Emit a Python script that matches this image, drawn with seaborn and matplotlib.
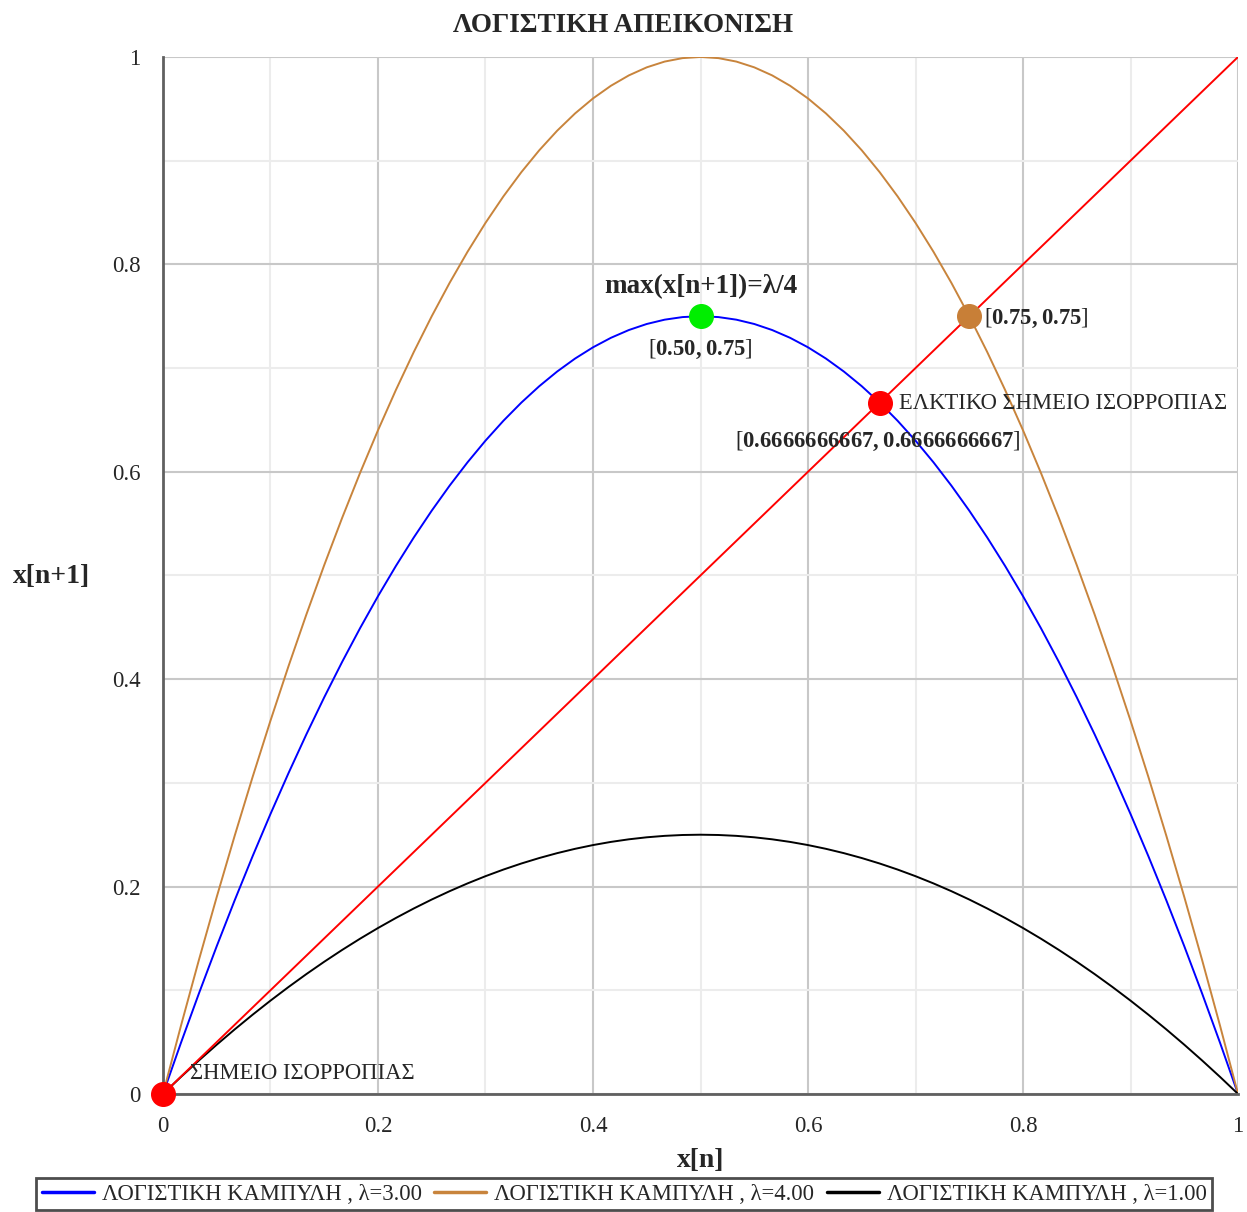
import numpy as np
import pandas as pd
import matplotlib
matplotlib.use("Agg")
import matplotlib.pyplot as plt
import seaborn as sns

# Growth rates of the logistic curves, in legend order
lambdas = [3.0, 4.0, 1.0]
curve_colors = ["#0000ff", "#c8843c", "#000000"]
curve_labels = ["ΛΟΓΙΣΤΙΚΗ ΚΑΜΠΥΛΗ , λ=3.00",
                "ΛΟΓΙΣΤΙΚΗ ΚΑΜΠΥΛΗ , λ=4.00",
                "ΛΟΓΙΣΤΙΚΗ ΚΑΜΠΥΛΗ , λ=1.00"]

# Highlighted points
origin_pt = (0.0, 0.0)
max_pt = (0.50, 0.75)
fixed_pt = (2.0 / 3.0, 2.0 / 3.0)
lambda4_pt = (0.75, 0.75)

# Tick positions and labels
xticks = [0, 0.2, 0.4, 0.6, 0.8, 1]
xticklabels = ["0", "0.2", "0.4", "0.6", "0.8", "1"]
yticks = [0, 0.2, 0.4, 0.6, 0.8, 1]
yticklabels = ["0", "0.2", "0.4", "0.6", "0.8", "1"]

sns.set_style("white")
plt.rcParams["font.family"] = ["Liberation Serif", "DejaVu Serif"]
plt.rcParams["mathtext.fontset"] = "custom"
plt.rcParams["mathtext.rm"] = "Liberation Serif"
plt.rcParams["mathtext.bf"] = "Liberation Serif:bold"

fig = plt.figure(figsize=(12.47, 12.12), dpi=100)
ax = fig.add_axes([0.1307, 0.0974, 0.8621, 0.8556])

xs = np.linspace(0, 1, 61)
frames = []
for lam, lab in zip(lambdas, curve_labels):
    frames.append(pd.DataFrame({"x": xs, "y": lam * xs * (1 - xs), "curve": lab}))
df = pd.concat(frames, ignore_index=True)

# Diagonal y = x
diag = pd.DataFrame({"x": [0.0, 1.0], "y": [0.0, 1.0]})
sns.lineplot(data=diag, x="x", y="y", color="#ff0000", lw=1.4, ax=ax,
             legend=False, zorder=3)

sns.lineplot(data=df, x="x", y="y", hue="curve", hue_order=curve_labels,
             palette=dict(zip(curve_labels, curve_colors)), lw=1.4, ax=ax,
             sort=False, estimator=None, zorder=2)

# Points
pts = pd.DataFrame({
    "x": [origin_pt[0], max_pt[0], fixed_pt[0], lambda4_pt[0]],
    "y": [origin_pt[1], max_pt[1], fixed_pt[1], lambda4_pt[1]],
    "c": ["#ff0000", "#00ee00", "#ff0000", "#c87f37"],
})
for _, r in pts.iterrows():
    ax.plot(r["x"], r["y"], "o", ms=17, color=r["c"], mec=r["c"], zorder=5,
            clip_on=False)

# Annotations
fs = 16.3
ax.text(max_pt[0], max_pt[1] + 0.029, "max(x[n+1])=λ/4", fontsize=19.5,
        fontweight="bold", ha="center", va="center", zorder=6)
ax.text(max_pt[0], max_pt[1] - 0.032, r"$[\mathbf{0.50,0.75}]$", fontsize=fs,
        ha="center", va="center", zorder=6)
ax.text(lambda4_pt[0] + 0.014, lambda4_pt[1] - 0.002, r"$[\mathbf{0.75,0.75}]$",
        fontsize=fs, ha="left", va="center", zorder=6)
ax.text(fixed_pt[0] + 0.018, fixed_pt[1] - 0.001, "ΕΛΚΤΙΚΟ ΣΗΜΕΙΟ ΙΣΟΡΡΟΠΙΑΣ",
        fontsize=fs, ha="left", va="center", zorder=6)
ax.text(0.532, fixed_pt[1] - 0.037,
        r"$[\mathbf{0.6666666667,0.6666666667}]$",
        fontsize=fs, ha="left", va="center", zorder=6)
ax.text(0.025, 0.0195, "ΣΗΜΕΙΟ ΙΣΟΡΡΟΠΙΑΣ", fontsize=fs, ha="left",
        va="center", zorder=6)

# Axes, grid, ticks
ax.set_xlim(0, 1)
ax.set_ylim(0, 1)
ax.set_xticks(xticks)
ax.set_xticklabels(xticklabels)
ax.set_yticks(yticks)
ax.set_yticklabels(yticklabels)
ax.set_xticks(np.arange(0.1, 1.0, 0.2), minor=True)
ax.set_yticks(np.arange(0.1, 1.0, 0.2), minor=True)
ax.grid(True, which="major", color="#c8c8c8", lw=1.5, zorder=0)
ax.grid(True, which="minor", color="#ececec", lw=1.5, zorder=0)
ax.set_axisbelow(True)
for s in ["top", "right"]:
    ax.spines[s].set_visible(False)
for s in ["left", "bottom"]:
    ax.spines[s].set_color("#606060")
    ax.spines[s].set_linewidth(2.0)
ax.tick_params(which="major", length=8, width=1.5, color="#606060",
               labelsize=16.5, pad=8, direction="out")
ax.tick_params(which="minor", length=5, width=1.2, color="#606060",
               direction="out")
ax.tick_params(axis="x", pad=8)

ax.set_xlabel("x[n]", fontsize=20, fontweight="bold", labelpad=8)
ax.set_ylabel("x[n+1]", fontsize=20, fontweight="bold", rotation=0,
              va="center", ha="center")
ax.yaxis.set_label_coords(-0.104, 0.499)
fig.suptitle("ΛΟΓΙΣΤΙΚΗ ΑΠΕΙΚΟΝΙΣΗ", fontsize=19.5, fontweight="bold",
             x=0.5, y=0.979, va="center")

# Legend along the bottom
ax.get_legend().remove()
handles = [plt.Line2D([], [], color=c, lw=2.5) for c in curve_colors]
leg = fig.legend(handles, curve_labels, loc="upper center",
                 bbox_to_anchor=(0.5005, 1 - 1178 / 1212), ncol=3,
                 fontsize=16.3, frameon=True, fancybox=False,
                 handlelength=2.3, handletextpad=0.35, columnspacing=0.55,
                 borderpad=0.25, borderaxespad=0.0, edgecolor="#202020")
leg.get_frame().set_linewidth(2.0)

fig.savefig("out.png", dpi=100)
